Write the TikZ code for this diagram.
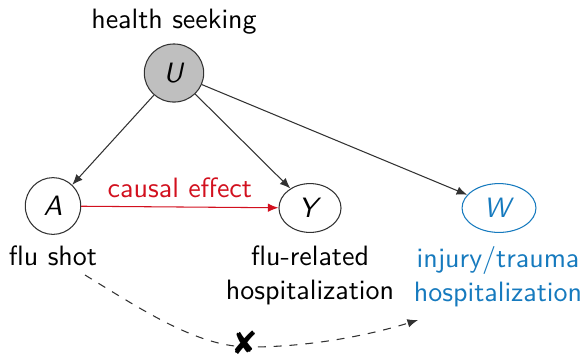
\documentclass[tikz,border=0pt]{standalone}
\usepackage{tikz}
\usetikzlibrary{arrows.meta,shapes.geometric}
\usepackage{fontspec}
\newfontfamily\dingfont{DejaVu Sans}
\definecolor{causalred}{RGB}{210,16,30}
\definecolor{negblue}{RGB}{22,122,190}
\definecolor{edgegray}{RGB}{50,50,50}

\begin{document}
\begin{tikzpicture}[x=0.3788pt, y=-0.3788pt, font=\sffamily\fontsize{10.6}{12.9}\selectfont,
        >={Latex[length=4pt,width=3.2pt]},
        var/.style={draw=edgegray, ellipse, inner sep=0pt},
        lab/.style={anchor=north, inner sep=0pt, align=center},
        edge/.style={edgegray, ->}]
        \useasboundingbox (0,0) rectangle (587,360);
        \node [var, fill=black!25, minimum width=22.5pt, minimum height=22pt] (U) at (174,73) {\textit{U}};
        \node [var, minimum width=21pt, minimum height=21.5pt] (A) at (53,206) {\textit{A}};
        \node [var, minimum width=23.5pt, minimum height=18.5pt] (Y) at (310,208) {\textit{Y}};
        \node [var, draw=negblue, text=negblue, minimum width=28pt, minimum height=18.5pt] (W) at (499,208) {\textit{W}};
        \node [lab] (Ulab) at (174,9) {health seeking};
        \node [lab] (Alab) at (53,245) {flu shot};
        \node [lab] (Ylab) at (310,245) {flu-related\\hospitalization};
        \node [lab, text=negblue] (Wlab) at (498,246) {injury/trauma\\hospitalization};
        \draw [edge] (U) -- (A);
        \draw [edge] (U) -- (Y);
        \draw [edge] (U) -- (W);
        \draw [->, causalred] (A) -- node[above] (ce) {causal effect} (Y);
        \coordinate (s) at (85,275);
        \coordinate (m) at (250,347);
        \coordinate (e) at (418,320);
        \draw [edge, dashed] (s) .. controls (150,315) and (200,347) .. (m)
        .. controls (310,347) and (370,335) .. (e);
        \node [inner sep=0pt, font=\dingfont\fontsize{12}{12}\selectfont] (nx) at (245,343) {✘};
    \end{tikzpicture}
\end{document}
